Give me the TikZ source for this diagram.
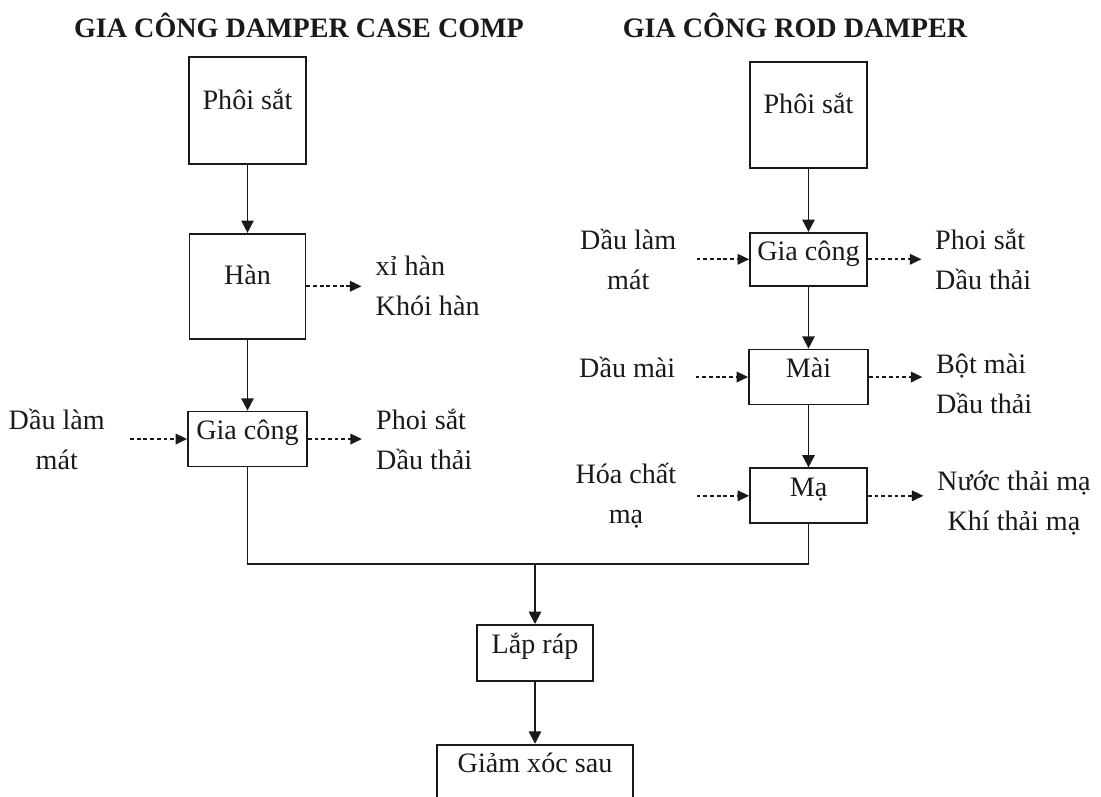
\documentclass[tikz,border=0pt]{standalone}
\usepackage{fontspec}
\setmainfont{Liberation Serif}
\usepackage{xcolor}
\usepackage{tikz}
\usetikzlibrary{arrows.meta,positioning}
\definecolor{flowink}{HTML}{1A1A1A}
\tikzset{
  stage/.style={rectangle, draw=flowink, line width=1pt, minimum width=2.34cm,
                minimum height=1.1cm, inner sep=2pt, text=flowink,
                font=\fontsize{16}{22.8}\selectfont, text height=11pt, text depth=10pt},
  tallstage/.style={stage, minimum height=2.12cm, text depth=12.5pt},
  heading/.style={text=flowink, inner sep=0pt, font=\fontsize{16}{19}\selectfont\bfseries},
  note/.style={text=flowink, align=center, inner sep=0pt, font=\fontsize{16}{22.8}\selectfont},
  outnote/.style={note, align=left},
  arrow/.style={-{Triangle[length=7pt,width=7pt]}, line width=1pt, color=flowink},
  leak/.style={-{Triangle[length=6.5pt,width=6pt]}, line width=0.9pt, color=flowink,
               dash pattern=on 2.2pt off 1.6pt},
  joinline/.style={line width=1pt, color=flowink},
}
\begin{document}
\begin{tikzpicture}
\useasboundingbox (0,0) rectangle (22.02,-15.92);
\node[heading] (titleL) at (5.98,-0.50) {GIA CÔNG DAMPER CASE COMP};
\node[heading] (titleR) at (15.90,-0.50) {GIA CÔNG ROD DAMPER};

\node[tallstage, minimum height=2.14cm] (phoiL) at (4.95,-2.21) {Phôi sắt};
\node[tallstage, minimum width=2.32cm, minimum height=2.10cm, below=1.36cm of phoiL] (han) {Hàn};
\node[stage, minimum width=2.38cm, below=1.42cm of han] (gcL) {Gia công};

\node[tallstage] (phoiR) at (16.17,-2.30) {Phôi sắt};
\node[stage, minimum height=1.06cm, below=1.26cm of phoiR] (gcR) {Gia công};
\node[stage, minimum width=2.38cm, below=1.24cm of gcR] (mai) {Mài};
\node[stage, below=1.24cm of mai] (ma) {Mạ};

\coordinate (join) at (10.7,-11.28);
\node[stage, minimum width=2.32cm, minimum height=1.12cm, below=1.2cm of join] (lap) {Lắp ráp};
\node[stage, minimum width=3.92cm, minimum height=1.6cm, text depth=24.8pt, below=1.24cm of lap] (giam) {Giảm xóc sau};

\node[note, left=1.64cm of gcL] (oilL) {Dầu làm\\mát};
\node[outnote, right=1.36cm of gcL] (chipL) {Phoi sắt\\Dầu thải};
\node[outnote, right=1.38cm of han] (slag) {xỉ hàn\\Khói hàn};
\node[note, left=1.45cm of gcR] (oilR) {Dầu làm\\mát};
\node[note, left=1.45cm of mai, yshift=0.2cm] (grindoil) {Dầu mài};
\node[note, left=1.45cm of ma] (chem) {Hóa chất\\mạ};
\node[outnote, right=1.34cm of gcR] (chipR) {Phoi sắt\\Dầu thải};
\node[outnote, right=1.34cm of mai, yshift=-0.14cm] (powder) {Bột mài\\Dầu thải};
\node[note, right=1.38cm of ma, yshift=-0.15cm] (platewaste) {Nước thải mạ\\Khí thải mạ};

\draw[arrow] (phoiL) -- (han);
\draw[arrow] (han) -- (gcL);
\draw[arrow] (phoiR) -- (gcR);
\draw[arrow] (gcR) -- (mai);
\draw[arrow] (mai) -- (ma);
\draw[joinline] (gcL) |- (join) -| (ma);
\draw[arrow] (join) -- (lap);
\draw[arrow] (lap) -- (giam);

\draw[leak, shorten <=0.5cm] (oilL.east |- gcL.west) -- (gcL.west);
\draw[leak, shorten <=0.4cm] (oilR.east |- gcR.west) -- (gcR.west);
\draw[leak, shorten <=0.4cm] (grindoil.east |- mai.west) -- (mai.west);
\draw[leak, shorten <=0.4cm] (chem.east |- ma.west) -- (ma.west);
\draw[leak, shorten >=0.28cm] (han.east) -- (han.east -| slag.west);
\draw[leak, shorten >=0.28cm] (gcL.east) -- (gcL.east -| chipL.west);
\draw[leak, shorten >=0.27cm] (gcR.east) -- (gcR.east -| chipR.west);
\draw[leak, shorten >=0.27cm] (mai.east) -- (mai.east -| powder.west);
\draw[leak, shorten >=0.27cm] (ma.east) -- (ma.east -| platewaste.west);
\end{tikzpicture}
\end{document}
